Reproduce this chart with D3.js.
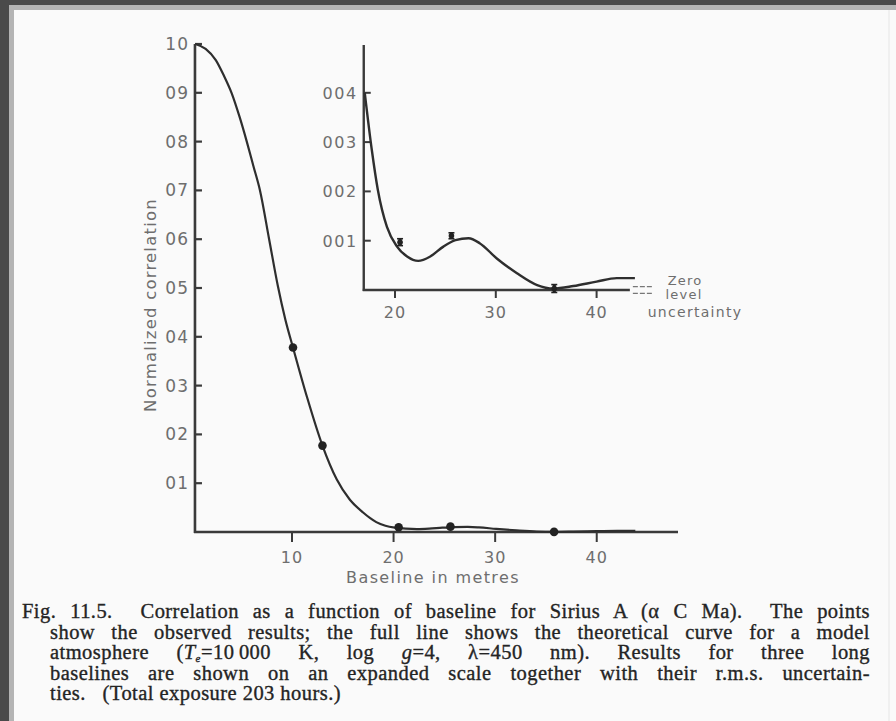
<!DOCTYPE html>
<html>
<head>
<meta charset="utf-8">
<script src="https://cdn.jsdelivr.net/npm/d3@7"></script>
<style>
  body { margin: 0; background: #4a4a4a; }
  svg { display: block; }
  .lab { font-family: "DejaVu Sans", sans-serif; fill: #6e6e6e; }
  .cap { font-family: "Liberation Serif", serif; fill: #242424; stroke: #242424; stroke-width: 0.35; }
</style>
</head>
<body>
<div id="chart"></div>
<script>
// theoretical curve (baseline m, normalized correlation)
const curveBaseline = [0.5, 1.5, 2.5, 3.3, 4.05, 4.85, 5.55, 6.2, 6.85, 7.75, 8.6, 9.35, 10.1, 11.5, 13.0, 14.4, 15.7,
  17.0, 17.7, 18.3, 19.2, 20.2, 21.2, 22.3, 23.5, 24.8, 26.0, 27.3, 28.4, 30.1, 32.1, 34.1, 35.7, 37.7, 40.0, 42.0, 43.8];
const curveCorr = [1.0, 0.99, 0.967, 0.935, 0.9, 0.85, 0.8, 0.75, 0.70, 0.6, 0.505, 0.435, 0.378, 0.275, 0.177, 0.108, 0.066,
  0.040, 0.0284, 0.0203, 0.0128, 0.0088, 0.0068, 0.0059, 0.0068, 0.0088, 0.0101, 0.0105, 0.0095, 0.0064, 0.0034, 0.001, 0.0003, 0.0008, 0.0017, 0.0024, 0.0024];

// observed points
const obsBaseline = [10.1, 13.0, 20.5, 25.6, 35.8];
const obsCorr = [0.378, 0.177, 0.0097, 0.011, 0.0003];
const obsErr = [0, 0, 0.0007, 0.0006, 0.0008];
const zeroLevelErr = 0.0007;

const mainYTicks = [0.1, 0.2, 0.3, 0.4, 0.5, 0.6, 0.7, 0.8, 0.9, 1.0];
const mainYLabels = ["01", "02", "03", "04", "05", "06", "07", "08", "09", "10"];
const mainXTicks = [10, 20, 30, 40];
const insetYTicks = [0.01, 0.02, 0.03, 0.04];
const insetYLabels = ["001", "002", "003", "004"];
const insetXTicks = [20, 30, 40];

const captionLines = [
  [["Fig. 11.5.  Correlation as a function of baseline for Sirius A (α C Ma).  The points"]],
  [["show the observed results; the full line shows the theoretical curve for a model"]],
  [["atmosphere (", ""], ["T", "i"], ["e", "sub"], ["=10\u2009000 K, log ", ""], ["g", "i"], ["=4, λ=450 nm). Results for three long", ""]],
  [["baselines are shown on an expanded scale together with their r.m.s. uncertain-"]],
  [["ties.   (Total exposure 203 hours.)"]]
];

var w = 896, h = 721;
var svg = d3.select("#chart").append("svg").attr("width", w).attr("height", h);

// page
svg.append("rect").attr("x", 9).attr("y", 5).attr("width", w).attr("height", h).attr("fill", "#b4b4b4");
svg.append("rect").attr("x", 14).attr("y", 10).attr("width", w).attr("height", h).attr("fill", "#fafafa");
svg.append("line").attr("x1", 889).attr("x2", 889).attr("y1", 10).attr("y2", h)
  .attr("stroke", "#e6e6e6").attr("stroke-width", 1);

var curve = curveBaseline.map((b, i) => ({ x: b, y: curveCorr[i] }));
var obs = obsBaseline.map((b, i) => ({ x: b, y: obsCorr[i], e: obsErr[i] }));

// ---------- main chart ----------
var x = d3.scaleLinear().domain([0, 48]).range([190.4, 678]);
var y = d3.scaleLinear().domain([0, 1]).range([532, 44]);
var x0 = 0.45;

var main = svg.append("g");
main.append("line").attr("x1", x(x0)).attr("x2", x(x0)).attr("y1", y(1.0)).attr("y2", y(0) + 1)
  .attr("stroke", "#3a3a3a").attr("stroke-width", 2.6);
main.append("line").attr("x1", x(x0) - 1).attr("x2", x(48)).attr("y1", y(0)).attr("y2", y(0))
  .attr("stroke", "#3a3a3a").attr("stroke-width", 2.6);

main.selectAll(".yt").data(mainYTicks).enter().append("line")
  .attr("x1", x(x0)).attr("x2", x(x0) + 7).attr("y1", d => y(d)).attr("y2", d => y(d))
  .attr("stroke", "#3a3a3a").attr("stroke-width", 2.2);
main.selectAll(".yl").data(mainYTicks).enter().append("text")
  .attr("class", "lab").attr("x", x(x0) - 6).attr("y", d => y(d) + 6)
  .attr("text-anchor", "end").attr("font-size", 17).attr("letter-spacing", 1)
  .text((d, i) => mainYLabels[i]);

main.selectAll(".xt").data(mainXTicks).enter().append("line")
  .attr("x1", d => x(d)).attr("x2", d => x(d)).attr("y1", y(0)).attr("y2", y(0) + 10)
  .attr("stroke", "#3a3a3a").attr("stroke-width", 2);
main.selectAll(".xl").data(mainXTicks).enter().append("text")
  .attr("class", "lab").attr("x", d => x(d)).attr("y", y(0) + 31)
  .attr("text-anchor", "middle").attr("font-size", 16).attr("letter-spacing", 1)
  .text(d => d);

main.append("text").attr("class", "lab").attr("x", 433).attr("y", 583)
  .attr("text-anchor", "middle").attr("font-size", 16).attr("letter-spacing", 1.4)
  .text("Baseline in metres");
main.append("text").attr("class", "lab")
  .attr("transform", "translate(156,305) rotate(-90)")
  .attr("text-anchor", "middle").attr("font-size", 16.5).attr("letter-spacing", 1.2)
  .text("Normalized  correlation");

var mainLine = d3.line().curve(d3.curveMonotoneX).x(d => x(d.x)).y(d => y(d.y));
main.append("path").datum(curve).attr("d", mainLine)
  .attr("fill", "none").attr("stroke", "#2e2e2e").attr("stroke-width", 2.2);
main.selectAll(".pt").data(obs).enter().append("circle")
  .attr("cx", d => x(d.x)).attr("cy", d => y(d.y)).attr("r", 4.3).attr("fill", "#222");

// ---------- inset ----------
var xi = d3.scaleLinear().domain([20, 40]).range([395, 596.6]);
var yi = d3.scaleLinear().domain([0, 0.04]).range([290, 92.8]);
var xiMin = 16.9, xiMax = 43.3, yiMax = 0.0497;

var inset = svg.append("g");

inset.append("line").attr("x1", xi(xiMin)).attr("x2", xi(xiMin)).attr("y1", yi(yiMax)).attr("y2", yi(0) + 1)
  .attr("stroke", "#3a3a3a").attr("stroke-width", 2.4);
inset.append("line").attr("x1", xi(xiMin) - 1).attr("x2", xi(xiMax)).attr("y1", yi(0)).attr("y2", yi(0))
  .attr("stroke", "#3a3a3a").attr("stroke-width", 2.4);

inset.selectAll(".yt").data(insetYTicks).enter().append("line")
  .attr("x1", xi(xiMin)).attr("x2", xi(xiMin) + 7).attr("y1", d => yi(d)).attr("y2", d => yi(d))
  .attr("stroke", "#3a3a3a").attr("stroke-width", 2);
inset.selectAll(".yl").data(insetYTicks).enter().append("text")
  .attr("class", "lab").attr("x", xi(xiMin) - 6).attr("y", d => yi(d) + 6)
  .attr("text-anchor", "end").attr("font-size", 16).attr("letter-spacing", 1.6)
  .text((d, i) => insetYLabels[i]);

inset.selectAll(".xt").data(insetXTicks).enter().append("line")
  .attr("x1", d => xi(d)).attr("x2", d => xi(d)).attr("y1", yi(0)).attr("y2", yi(0) + 8)
  .attr("stroke", "#3a3a3a").attr("stroke-width", 2);
inset.selectAll(".xl").data(insetXTicks).enter().append("text")
  .attr("class", "lab").attr("x", d => xi(d)).attr("y", yi(0) + 28)
  .attr("text-anchor", "middle").attr("font-size", 16).attr("letter-spacing", 1)
  .text(d => d);

var insetLine = d3.line().curve(d3.curveMonotoneX).x(d => xi(d.x)).y(d => yi(d.y));
inset.append("path").datum(curve.filter(d => d.x >= 17.0)).attr("d", insetLine)
  .attr("fill", "none").attr("stroke", "#2e2e2e").attr("stroke-width", 2.4);

var eb = inset.selectAll(".eb").data(obs.filter(d => d.x >= xiMin)).enter().append("g");
eb.append("line").attr("x1", d => xi(d.x)).attr("x2", d => xi(d.x))
  .attr("y1", d => yi(d.y - d.e)).attr("y2", d => yi(d.y + d.e))
  .attr("stroke", "#222").attr("stroke-width", 3.2);
eb.append("line").attr("x1", d => xi(d.x) - 3).attr("x2", d => xi(d.x) + 3)
  .attr("y1", d => yi(d.y - d.e)).attr("y2", d => yi(d.y - d.e))
  .attr("stroke", "#222").attr("stroke-width", 1.6);
eb.append("line").attr("x1", d => xi(d.x) - 3).attr("x2", d => xi(d.x) + 3)
  .attr("y1", d => yi(d.y + d.e)).attr("y2", d => yi(d.y + d.e))
  .attr("stroke", "#222").attr("stroke-width", 1.6);
eb.append("circle").attr("cx", d => xi(d.x)).attr("cy", d => yi(d.y)).attr("r", 2.8).attr("fill", "#222");

// zero level uncertainty band marks
[zeroLevelErr, -zeroLevelErr].forEach(function (v) {
  inset.append("line").attr("x1", xi(xiMax) + 3).attr("x2", xi(xiMax) + 24)
    .attr("y1", yi(v)).attr("y2", yi(v))
    .attr("stroke", "#777").attr("stroke-width", 1.3).attr("stroke-dasharray", "5,2");
});
inset.append("text").attr("class", "lab").attr("x", 685).attr("y", 285)
  .attr("text-anchor", "middle").attr("font-size", 13).attr("letter-spacing", 1.2).text("Zero");
inset.append("text").attr("class", "lab").attr("x", 684).attr("y", 299)
  .attr("text-anchor", "middle").attr("font-size", 13).attr("letter-spacing", 1.2).text("level");
inset.append("text").attr("class", "lab").attr("x", 695).attr("y", 317)
  .attr("text-anchor", "middle").attr("font-size", 14).attr("letter-spacing", 1.3).text("uncertainty");

// ---------- caption ----------
var capY = [618, 638.5, 659, 679.5, 700];
var capX = [22, 50, 50, 50, 50];
var capRight = 870;
captionLines.forEach(function (parts, li) {
  var t = svg.append("text").attr("class", "cap").attr("x", capX[li]).attr("y", capY[li])
    .attr("font-size", 20.5).attr("letter-spacing", 0.45).style("white-space", "pre");
  parts.forEach(function (p, i) {
    var s = t.append("tspan").text(p[0]);
    if (p[1] === "i") s.attr("font-style", "italic");
    if (p[1] === "sub") s.attr("font-style", "italic").attr("font-size", 11).attr("dy", 2.5);
    else if (i > 0 && parts[i - 1][1] === "sub") s.attr("dy", -2.5);
  });
  if (li < captionLines.length - 1) {
    var natural = t.node().getComputedTextLength();
    var spaces = parts.map(p => p[0]).join("").split(" ").length - 1;
    t.style("word-spacing", ((capRight - capX[li] - natural) / spaces) + "px");
  }
});
</script>
</body>
</html>
